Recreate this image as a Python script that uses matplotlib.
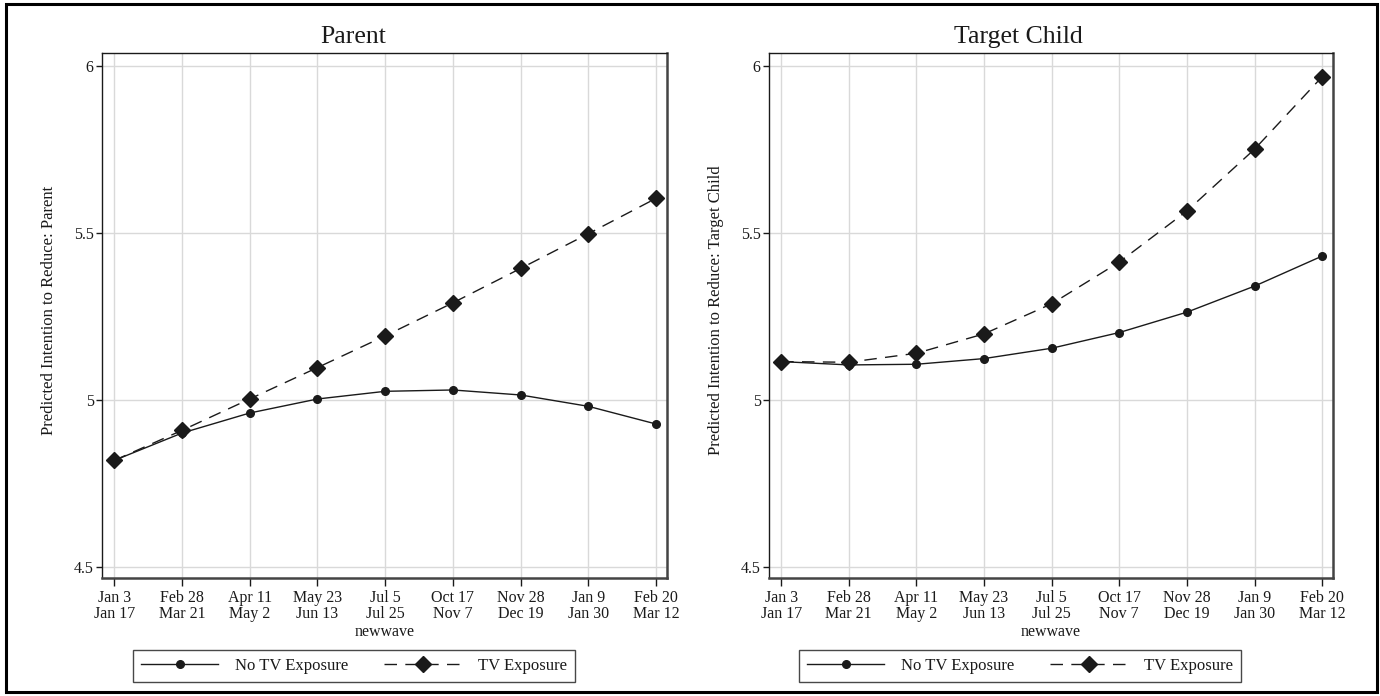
"""
Predicted intention to reduce, by TV exposure (Parent / Target Child)
"""

import matplotlib.pyplot as plt
from matplotlib.patches import Rectangle
import numpy as np

plt.rcParams['font.family'] = ['Liberation Serif', 'DejaVu Serif']

# ========================================
# Data
# ========================================
waves = np.arange(1, 10)
wave_labels = ["Jan 3\nJan 17", "Feb 28\nMar 21", "Apr 11\nMay 2", "May 23\nJun 13",
               "Jul 5\nJul 25", "Oct 17\nNov 7", "Nov 28\nDec 19", "Jan 9\nJan 30",
               "Feb 20\nMar 12"]
y_ticks = [4.5, 5, 5.5, 6]
y_tick_labels = ["4.5", "5", "5.5", "6"]

parent_no_tv = [4.818, 4.900, 4.960, 5.002, 5.025, 5.029, 5.014, 4.980, 4.927]
parent_tv = [4.818, 4.908, 5.002, 5.096, 5.191, 5.290, 5.393, 5.497, 5.603]
child_no_tv = [5.114, 5.104, 5.106, 5.123, 5.154, 5.201, 5.262, 5.340, 5.430]
child_tv = [5.114, 5.112, 5.139, 5.197, 5.287, 5.412, 5.565, 5.750, 5.967]

INK = '#1a1a1a'
GRID = '#d9d9d9'
W, H = 1380, 696


def px_rect(x0, y0, x1, y1):
    """pixel box (top-left origin) -> figure coords [left, bottom, width, height]"""
    return [x0 / W, 1 - y1 / H, (x1 - x0) / W, (y1 - y0) / H]


def draw_panel(fig, rect, title, title_x, no_tv, tv, ylabel, legend_center):
    ax = fig.add_axes(rect)

    ax.plot(waves, no_tv, color=INK, linewidth=1.0, marker='o', markersize=5.5,
            label='No TV Exposure', zorder=3)
    ax.plot(waves, tv, color=INK, linewidth=1.0, marker='D', markersize=8.5,
            dashes=(9, 6), label='TV Exposure', zorder=4)

    ax.set_xlim(0.82, 9.16)
    ax.set_ylim(4.466, 6.038)
    ax.set_xticks(waves)
    ax.set_xticklabels(wave_labels, fontsize=11.5, color=INK, linespacing=1.0)
    ax.set_yticks(y_ticks)
    ax.set_yticklabels(y_tick_labels, fontsize=11.5, color=INK)
    ax.tick_params(axis='x', direction='out', length=6, width=1, color=INK, pad=3)
    ax.tick_params(axis='y', direction='out', length=4, width=1, color=INK, pad=2)

    ax.grid(True, color=GRID, linewidth=1.0)
    ax.set_axisbelow(True)

    for side in ['top', 'left']:
        ax.spines[side].set_color(INK)
        ax.spines[side].set_linewidth(1.0)
    for side in ['bottom', 'right']:
        ax.spines[side].set_color('#444444')
        ax.spines[side].set_linewidth(1.8)

    ax.set_xlabel('newwave', fontsize=11.5, color=INK, labelpad=1)
    ax.set_ylabel(ylabel, fontsize=12, color=INK)
    ax.yaxis.set_label_coords(-0.079, 0.51)

    fig.text(title_x, 1 - 37 / H, title, fontsize=18.5, color=INK,
             ha='center', va='center')

    leg = ax.legend(loc='center', bbox_to_anchor=legend_center,
                    bbox_transform=fig.transFigure, ncol=2, fontsize=12,
                    frameon=True, fancybox=False, handlelength=4.6,
                    handletextpad=1.0, columnspacing=2.2, borderpad=0.5)
    leg.get_frame().set_edgecolor(INK)
    leg.get_frame().set_linewidth(1.0)
    for t in leg.get_texts():
        t.set_color(INK)
    return ax


fig = plt.figure(figsize=(13.8, 6.96), dpi=100)

draw_panel(fig, px_rect(102, 53, 667, 578), 'Parent', 353 / W,
           parent_no_tv, parent_tv, 'Predicted Intention to Reduce: Parent',
           (354 / W, 1 - 666 / H))
draw_panel(fig, px_rect(769, 53, 1333, 578), 'Target Child', 1018 / W,
           child_no_tv, child_tv, 'Predicted Intention to Reduce: Target Child',
           (1020 / W, 1 - 666 / H))

# outer frame around the whole graph
fig.patches.append(Rectangle((6 / W, 4 / H), 1371 / W, 688 / H, transform=fig.transFigure,
                             fill=False, edgecolor='black', linewidth=2.2))

fig.savefig('out.png', dpi=100)
print("Saved: out.png")
